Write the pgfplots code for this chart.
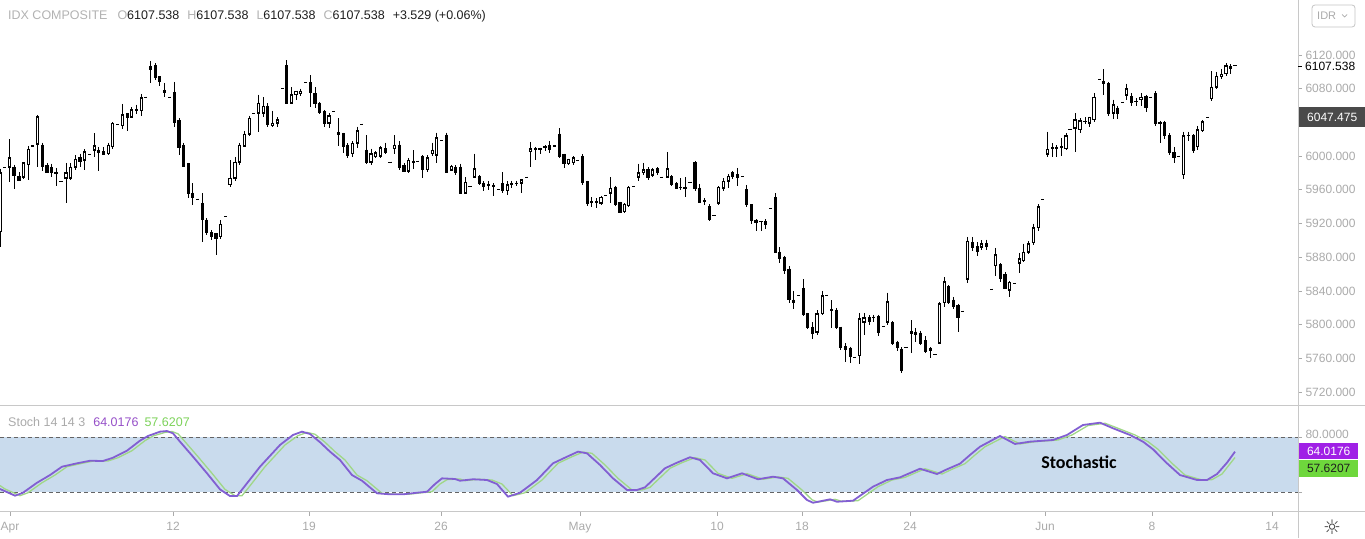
\documentclass[border=0pt]{standalone}
\usepackage{fontspec}
\setmainfont{Liberation Sans}
\newfontfamily\carlito{Carlito}
\newfontfamily\dejavu{DejaVu Sans}
\usepackage{pgfplots}
\usepackage{pgfplotstable}
\pgfplotsset{compat=1.18}

\definecolor{lblgray}{RGB}{170,170,170}
\definecolor{ttlgray}{RGB}{178,178,178}
\definecolor{valcol}{RGB}{30,30,30}
\definecolor{axgray}{RGB}{200,200,200}
\definecolor{band}{RGB}{201,219,237}
\definecolor{dashgray}{RGB}{100,100,100}
\definecolor{kcol}{RGB}{130,95,210}
\definecolor{dcol}{RGB}{160,215,135}
\definecolor{khead}{RGB}{150,80,200}
\definecolor{dhead}{RGB}{125,210,90}
\definecolor{kbox}{RGB}{160,32,230}
\definecolor{dbox}{RGB}{110,215,60}
\definecolor{darkbox}{RGB}{74,74,74}

\pgfplotstableread{
x o h l c
0.0 5910 5985 5892 5980
4.7 5986 5986 5986 5986
9.3 5987 6020 5969 5998
14.0 5987 5990 5961 5977
19.0 5976 5981 5970 5971
23.3 5975 5993 5973 5992
28.3 5990 6012 5972 6008
32.7 6012 6012 6012 6012
37.3 6014 6049 5987 6047
42.3 6013 6016 5982 5988
47.0 5989 5992 5981 5981
51.3 5986 5991 5975 5980
56.0 5980 5986 5964 5979
61.0 5970 5970 5970 5970
66.0 5974 5992 5944 5980
70.3 5974 5992 5972 5987
75.3 5987 6001 5983 5996
80.0 5998 6003 5987 5994
84.7 5995 6008 5983 6005
89.3 6002 6002 6002 6002
94.3 6007 6027 5999 6012
98.3 6007 6011 5982 6004
103.3 6005 6011 6001 6002
108.3 6003 6016 6001 6013
112.3 6011 6040 6008 6039
117.3 6037 6037 6037 6037
122.3 6036 6062 6032 6049
127.3 6050 6051 6030 6046
131.7 6046 6058 6045 6055
136.3 6054 6061 6050 6055
141.3 6054 6074 6048 6069
145.7 6070 6070 6070 6070
150.7 6106 6113 6087 6103
155.3 6107 6110 6090 6093
159.3 6094 6095 6083 6089
164.3 6078 6087 6070 6075
169.3 6070 6070 6070 6070
174.3 6076 6088 6035 6040
179.0 6042 6045 6001 6010
183.3 6012 6016 5987 5988
188.3 5991 5992 5950 5956
192.7 5956 5968 5942 5951
197.3 5949 5949 5949 5949
202.3 5944 5956 5898 5925
206.7 5924 5926 5906 5909
211.3 5909 5912 5900 5905
216.0 5908 5909 5883 5902
220.7 5904 5924 5902 5919
225.3 5928 5928 5928 5928
230.0 5966 5995 5963 5974
235.0 5974 5999 5971 5993
239.3 5993 6016 5989 6013
244.3 6012 6030 6011 6026
249.3 6026 6048 6024 6045
253.3 6050 6050 6050 6050
258.3 6051 6073 6029 6063
263.3 6051 6070 6047 6059
267.7 6059 6063 6034 6037
272.7 6036 6054 6035 6039
277.3 6039 6046 6034 6043
282.7 6080 6080 6080 6080
286.7 6107 6114 6062 6063
291.7 6063 6082 6062 6073
296.0 6073 6077 6067 6077
300.7 6074 6080 6071 6077
305.3 6087 6087 6087 6087
310.7 6087 6096 6058 6075
315.0 6074 6082 6057 6062
319.3 6063 6064 6050 6052
324.3 6053 6055 6035 6039
329.0 6039 6051 6033 6048
333.3 6053 6053 6053 6053
338.3 6028 6045 6012 6026
343.3 6027 6028 6004 6012
347.7 6013 6015 5998 6001
352.3 6003 6018 5999 6015
357.3 6015 6035 6010 6030
361.7 6038 6038 6038 6038
366.7 6007 6025 5991 5993
371.0 5993 6009 5990 6003
375.7 5999 6006 5998 6004
380.7 6000 6012 5998 6010
385.7 6009 6016 6002 6004
390.0 5993 5993 5993 5993
394.3 6009 6025 6003 6013
399.3 6013 6018 5984 5987
404.0 5989 5992 5981 5982
408.3 5982 5998 5980 5995
413.3 5993 6007 5985 5994
417.7 5994 5994 5994 5994
422.7 5999 6001 5974 5984
427.3 5984 6001 5981 5998
432.3 6003 6016 6000 6007
436.7 6001 6028 5992 6022
441.7 6018 6018 6018 6018
446.7 6025 6028 5980 5981
451.7 5983 5990 5982 5988
455.7 5987 5989 5977 5980
460.7 5987 5991 5956 5956
465.7 5956 5975 5955 5969
470.0 5964 5964 5964 5964
474.3 5975 6003 5975 5985
479.3 5976 5977 5966 5968
483.7 5968 5970 5958 5964
488.3 5965 5970 5960 5966
493.3 5965 5968 5953 5964
498.3 5960 5960 5960 5960
502.7 5967 5981 5956 5959
507.3 5959 5970 5954 5966
511.7 5966 5971 5962 5967
516.7 5967 5971 5964 5968
521.7 5968 5973 5956 5972
526.7 5975 5975 5975 5975
530.7 6005 6017 5987 6009
535.7 6008 6011 5995 6009
540.0 6008 6010 6002 6009
545.0 6010 6013 6006 6011
549.3 6012 6018 6004 6008
554.3 6012 6012 6012 6012
559.3 6026 6033 5998 6000
564.0 6002 6003 5986 5991
568.3 5991 5997 5989 5996
573.3 5992 6000 5990 5998
577.3 5995 5995 5995 5995
582.7 5999 6002 5966 5969
587.3 5970 5971 5941 5944
591.7 5945 5951 5940 5946
596.7 5945 5950 5939 5946
601.0 5944 5953 5942 5951
605.7 5953 5953 5953 5953
610.7 5956 5975 5944 5962
615.3 5963 5965 5941 5942
620.0 5945 5946 5932 5933
624.3 5934 5944 5932 5943
628.7 5941 5964 5940 5963
633.3 5964 5964 5964 5964
638.3 5975 5991 5970 5980
643.3 5980 5992 5977 5984
648.0 5984 5987 5972 5975
652.3 5977 5986 5975 5984
657.3 5985 5987 5978 5981
661.7 5975 5975 5975 5975
667.3 5975 6005 5975 5985
671.7 5976 5977 5964 5966
676.7 5967 5969 5961 5962
680.7 5963 5974 5960 5963
685.0 5963 5975 5952 5962
690.0 5969 5969 5969 5969
695.0 5992 5994 5959 5961
699.3 5962 5967 5944 5945
704.3 5947 5950 5942 5946
709.3 5940 5943 5923 5925
714.0 5929 5929 5929 5929
718.3 5944 5964 5942 5963
723.3 5962 5974 5958 5970
728.3 5970 5979 5962 5976
732.7 5980 5982 5973 5976
737.3 5978 5986 5964 5975
742.3 5976 5976 5976 5976
746.7 5960 5966 5940 5942
751.7 5942 5943 5920 5924
756.0 5924 5925 5911 5921
761.0 5922 5923 5911 5922
765.7 5922 5925 5913 5919
770.7 5938 5938 5938 5938
775.7 5951 5956 5885 5886
779.3 5886 5892 5873 5878
784.3 5880 5882 5860 5864
789.0 5866 5869 5826 5830
793.7 5829 5840 5819 5826
798.3 5834 5834 5834 5834
803.3 5843 5854 5810 5812
807.3 5813 5814 5795 5797
812.3 5797 5803 5783 5789
817.0 5791 5817 5788 5813
822.3 5813 5840 5812 5834
826.7 5835 5835 5835 5835
831.7 5818 5829 5796 5817
836.7 5817 5820 5795 5797
840.7 5797 5797 5770 5773
845.7 5774 5778 5756 5771
850.3 5772 5774 5754 5762
854.3 5761 5761 5761 5761
859.3 5763 5814 5753 5807
864.0 5803 5814 5788 5808
869.3 5808 5811 5800 5804
873.3 5809 5812 5803 5808
878.3 5810 5812 5786 5791
883.3 5798 5798 5798 5798
887.3 5803 5838 5799 5827
892.3 5802 5804 5776 5778
897.3 5779 5781 5769 5773
901.3 5771 5773 5743 5745
906.0 5773 5773 5773 5773
911.3 5790 5805 5766 5792
915.7 5791 5796 5779 5788
920.7 5790 5793 5776 5778
925.7 5781 5786 5766 5768
930.7 5772 5773 5760 5769
935.0 5764 5764 5764 5764
939.3 5778 5827 5777 5825
944.3 5826 5856 5821 5851
948.3 5845 5847 5825 5826
953.3 5829 5833 5819 5821
958.0 5823 5825 5791 5809
962.7 5816 5816 5816 5816
967.3 5854 5904 5849 5899
972.7 5897 5904 5887 5892
977.3 5893 5898 5882 5887
981.7 5892 5900 5889 5896
986.7 5896 5901 5888 5893
991.7 5842 5842 5842 5842
995.7 5870 5891 5858 5883
1000.7 5871 5873 5851 5855
1005.0 5859 5862 5842 5843
1009.3 5841 5852 5833 5850
1014.3 5849 5849 5849 5849
1019.3 5873 5885 5861 5878
1023.3 5876 5896 5874 5886
1028.3 5886 5899 5884 5896
1033.3 5897 5920 5895 5915
1038.3 5915 5943 5911 5940
1042.7 5948 5948 5948 5948
1047.3 6002 6029 5999 6008
1052.3 6009 6015 5999 6010
1056.7 6009 6013 5999 6010
1061.7 6010 6021 6000 6011
1066.0 6009 6027 6007 6024
1070.0 6032 6032 6032 6032
1075.0 6033 6051 6005 6043
1080.0 6031 6045 6028 6042
1085.0 6041 6046 6038 6041
1089.3 6039 6047 6034 6046
1094.0 6043 6075 6040 6070
1099.3 6091 6091 6091 6091
1103.3 6089 6103 6073 6086
1108.3 6086 6088 6048 6051
1113.3 6051 6067 6044 6061
1117.3 6057 6060 6044 6050
1122.7 6064 6064 6064 6064
1126.7 6072 6086 6067 6080
1131.7 6071 6075 6060 6064
1136.0 6065 6069 6059 6065
1141.0 6067 6075 6060 6070
1146.0 6071 6073 6052 6058
1150.7 6070 6070 6070 6070
1155.7 6074 6077 6036 6039
1160.0 6040 6042 6015 6039
1164.3 6040 6042 6020 6024
1169.3 6024 6027 6001 6004
1174.0 6004 6011 5992 5998
1178.3 6000 6000 6000 6000
1183.3 5978 6029 5973 6024
1188.3 6024 6029 6018 6024
1193.3 6025 6026 6004 6007
1197.3 6011 6036 6007 6031
1202.3 6030 6043 6029 6041
1207.3 6046 6046 6046 6046
1211.7 6068 6101 6065 6082
1216.7 6082 6100 6080 6095
1221.7 6094 6103 6092 6097
1226.0 6098 6110 6095 6107
1230.7 6106 6109 6097 6104
1235.0 6107.538 6107.538 6107.538 6107.538
}\candles

\begin{document}
\begin{tikzpicture}
\useasboundingbox (0,0) rectangle (1365pt,538pt);

% ---------------- price panel ----------------
\begin{axis}[
  at={(0pt,132pt)}, anchor=south west, scale only axis,
  width=1298pt, height=406pt,
  xmin=0, xmax=1298, ymin=5703.4, ymax=6185.3,
  axis line style={draw=none},
  xtick=\empty,
  ytick={5720,5760,5800,5840,5880,5920,5960,6000,6040,6080,6120},
  yticklabels={5720.000,5760.000,5800.000,5840.000,5880.000,5920.000,5960.000,6000.000,,6080.000,6120.000},
  ytick pos=right, yticklabel pos=right,
  tick align=outside, major tick length=4pt,
  tick style={lblgray, line width=0.8pt},
  y tick label style={font=\fontsize{12}{13}\selectfont, text=lblgray, anchor=west, xshift=0pt},
]
% wicks
\addplot[mark=none, draw=none, forget plot,
  error bars/.cd, y dir=minus, y explicit, error mark=none,
  error bar style={draw=black, line width=1pt}]
  table[x=x, y=h, y error minus expr={\thisrow{h}-\thisrow{l}}] {\candles};
% bodies (black)
\addplot[mark=none, draw=none, forget plot,
  error bars/.cd, y dir=minus, y explicit, error mark=none,
  error bar style={draw=black, line width=3.4pt}]
  table[x=x, y expr={max(\thisrow{o},\thisrow{c})+0.6},
        y error minus expr={abs(\thisrow{o}-\thisrow{c})+1.2}] {\candles};
% hollow interiors of rising candles
\addplot[mark=none, draw=none, forget plot,
  error bars/.cd, y dir=minus, y explicit, error mark=none,
  error bar style={draw=white, line width=1.4pt}]
  table[x expr={(\thisrow{c}-\thisrow{o}>2.6) ? \thisrow{x} : -100},
        y expr={\thisrow{c}-1.2},
        y error minus expr={\thisrow{c}-\thisrow{o}-2.4}] {\candles};
\end{axis}

% ---------------- stochastic panel ----------------
\begin{axis}[
  at={(0pt,26pt)}, anchor=south west, scale only axis,
  width=1298pt, height=106pt,
  xmin=0, xmax=1298, ymin=-1.8, ymax=113.8,
  axis line style={draw=none},
  xtick={10,173,309,441,580,717,802,910,1045,1152,1272},
  xticklabels={Apr,12,19,26,May,10,18,24,Jun,8,14},
  xtick pos=bottom, xticklabel pos=bottom,
  ytick={20,80}, yticklabels={,80.0000},
  ytick pos=right, yticklabel pos=right,
  tick align=outside, major tick length=4pt,
  tick style={lblgray, line width=0.8pt},
  x tick label style={font=\fontsize{12}{13}\selectfont, text=lblgray, anchor=base, yshift=-14pt},
  y tick label style={font=\fontsize{12}{13}\selectfont, text=lblgray, anchor=west, xshift=0pt, yshift=3pt},
]
\fill[band] (axis cs:0,20) rectangle (axis cs:1298,80);
\draw[dashgray, line width=0.8pt, dash pattern=on 4pt off 3pt] (axis cs:0,80) -- (axis cs:1298,80);
\draw[dashgray, line width=0.8pt, dash pattern=on 4pt off 3pt] (axis cs:0,20) -- (axis cs:1298,20);
\addplot[dcol, line width=1.3pt, mark=none] coordinates {
(0,27) (5,23.3) (20,16.0) (28,19.2) (42,30.1) (55,38.5) (67,47.6) (82,51.3) (95,54.1)
(108,53.8) (118,57.4) (132,65.1) (145,76.0) (153,81.1) (165,85.0) (172,86.0) (178,83.5)
(185,74.9) (198,58.5) (212,40.4) (225,22.9) (235,16.0) (242,16.0) (248,24.0) (265,47.6)
(285,71.3) (298,81.5) (307,85.0) (315,83.0) (325,74.3) (335,64.0) (345,54.9) (357,38.5)
(367,32.3) (382,18.6) (395,17.5) (408,17.5) (422,19.2) (432,20.3) (440,28.7) (447,33.5)
(460,34.2) (465,32.3) (478,33.9) (492,33.1) (502,28.7) (513,16.0) (525,19.2) (542,33.1)
(558,51.3) (572,58.5) (583,63.5) (592,62.2) (605,49.5) (618,34.9) (632,22.2) (642,22.2)
(650,25.1) (670,45.9) (682,52.0) (695,57.5) (705,54.9) (718,40.4) (732,34.9) (747,40.0)
(763,33.9) (778,36.5) (788,34.9) (802,22.2) (812,11.5) (818,9.0) (835,12.0) (842,9.8)
(858,10.5) (878,25.8) (892,33.1) (905,36.0) (925,45.4) (942,39.6) (952,44.8) (965,50.9)
(975,60.4) (985,69.4) (1005,80.5) (1020,72.4) (1035,74.9) (1058,76.7) (1072,82.2)
(1088,92.5) (1105,95.0) (1118,89.5) (1135,82.2) (1148,74.9) (1158,66.6) (1172,51.3)
(1185,38.5) (1202,33.1) (1212,33.5) (1222,39.6) (1228,48.0) (1235,57.6)
};
\addplot[kcol, line width=1.8pt, mark=none] coordinates {
(0,23.3) (15,16.0) (23,19.2) (37,30.1) (50,38.5) (62,47.6) (77,51.3) (90,54.1) (103,53.8)
(113,57.4) (127,65.1) (140,76.0) (148,81.1) (160,85.8) (167,86.5) (173,84.0) (180,74.9)
(193,58.5) (207,40.4) (220,22.9) (230,15.6) (237,15.6) (243,24.0) (260,47.6) (280,71.3)
(293,82.2) (302,85.8) (310,83.3) (320,74.3) (330,64.0) (340,54.9) (352,38.5) (362,32.3)
(377,18.6) (390,17.5) (403,17.5) (417,19.2) (427,20.3) (435,28.7) (442,34.9) (455,34.2)
(460,32.3) (473,33.9) (487,33.1) (497,28.7) (508,14.9) (520,19.2) (537,33.1) (553,51.3)
(567,58.5) (578,64.0) (587,62.2) (600,49.5) (613,34.9) (627,22.2) (637,22.2) (645,25.1)
(665,45.9) (677,52.0) (690,57.9) (700,54.9) (713,40.4) (727,34.9) (742,40.4) (758,33.9)
(773,36.7) (783,34.9) (797,22.2) (807,11.3) (813,8.3) (830,12.0) (837,9.4) (853,10.5)
(873,25.8) (887,33.1) (900,36.0) (920,45.4) (937,39.6) (947,44.8) (960,50.9) (970,60.4)
(980,69.4) (1000,81.1) (1015,72.4) (1030,74.9) (1053,76.7) (1067,82.2) (1083,93.1)
(1100,95.6) (1113,89.5) (1130,82.2) (1143,74.9) (1153,66.6) (1167,51.3) (1180,38.5)
(1197,33.1) (1207,33.1) (1217,39.6) (1227,52.0) (1235,64.0)
};
\end{axis}

% ---------------- frame lines ----------------
\draw[axgray, line width=1pt] (0pt,132pt) -- (1365pt,132pt);
\draw[axgray, line width=1pt] (0pt,26pt) -- (1365pt,26pt);
\draw[axgray, line width=1pt] (1298pt,0pt) -- (1298pt,538pt);

% ---------------- price overlays ----------------
\node[fill=white, inner sep=1pt, anchor=west, text=black, font=\fontsize{12}{13}\selectfont] at (1304pt,472pt) {6107.538};
\draw[black, line width=0.8pt] (1298pt,472pt) -- (1302pt,472pt);
\node[fill=darkbox, inner sep=0pt, anchor=west, text=white, minimum width=66pt, minimum height=20pt, font=\fontsize{12}{13}\selectfont] at (1299pt,421pt) {6047.475};
\node[fill=kbox, inner sep=0pt, anchor=west, text=white, minimum width=59pt, minimum height=16pt, font=\fontsize{12}{13}\selectfont] at (1299pt,87pt) {64.0176};
\node[fill=dbox, inner sep=0pt, anchor=west, text=valcol, minimum width=59pt, minimum height=17pt, font=\fontsize{12}{13}\selectfont] at (1299pt,69.5pt) {57.6207};

% ---------------- titles ----------------
\node[anchor=base west, inner sep=0pt, text=valcol, font=\fontsize{12.5}{14}\selectfont] at (8pt,518pt)
 {{\color{ttlgray}IDX COMPOSITE}\hspace{10pt}{\color{ttlgray}O}6107.538\hspace{8pt}{\color{ttlgray}H}6107.538\hspace{8pt}{\color{ttlgray}L}6107.538\hspace{8pt}{\color{ttlgray}C}6107.538\hspace{8pt}+3.529 (+0.06\%)};
\node[anchor=base west, inner sep=0pt, font=\fontsize{12.5}{14}\selectfont] at (8pt,111.5pt)
 {{\color{lblgray}Stoch 14 14 3}\hspace{8pt}{\color{khead}64.0176}\hspace{6pt}{\color{dhead}57.6207}};
\node[font=\carlito\bfseries\fontsize{18}{20}\selectfont, text=black] at (1079pt,76pt) {Stochastic};

% ---------------- corner widgets ----------------
\draw[lblgray!70, line width=0.8pt, rounded corners=3pt] (1312pt,511pt) rectangle (1355pt,533pt);
\node[text=lblgray, font=\fontsize{11}{12}\selectfont, anchor=west, inner sep=0pt] at (1317pt,522pt) {IDR};
\draw[lblgray, line width=0.7pt] (1342pt,523.5pt) -- (1344.5pt,521pt) -- (1347pt,523.5pt);
\node[font=\dejavu\fontsize{20}{20}\selectfont, text=black!75] at (1332pt,11pt) {☼};
\end{tikzpicture}
\end{document}
